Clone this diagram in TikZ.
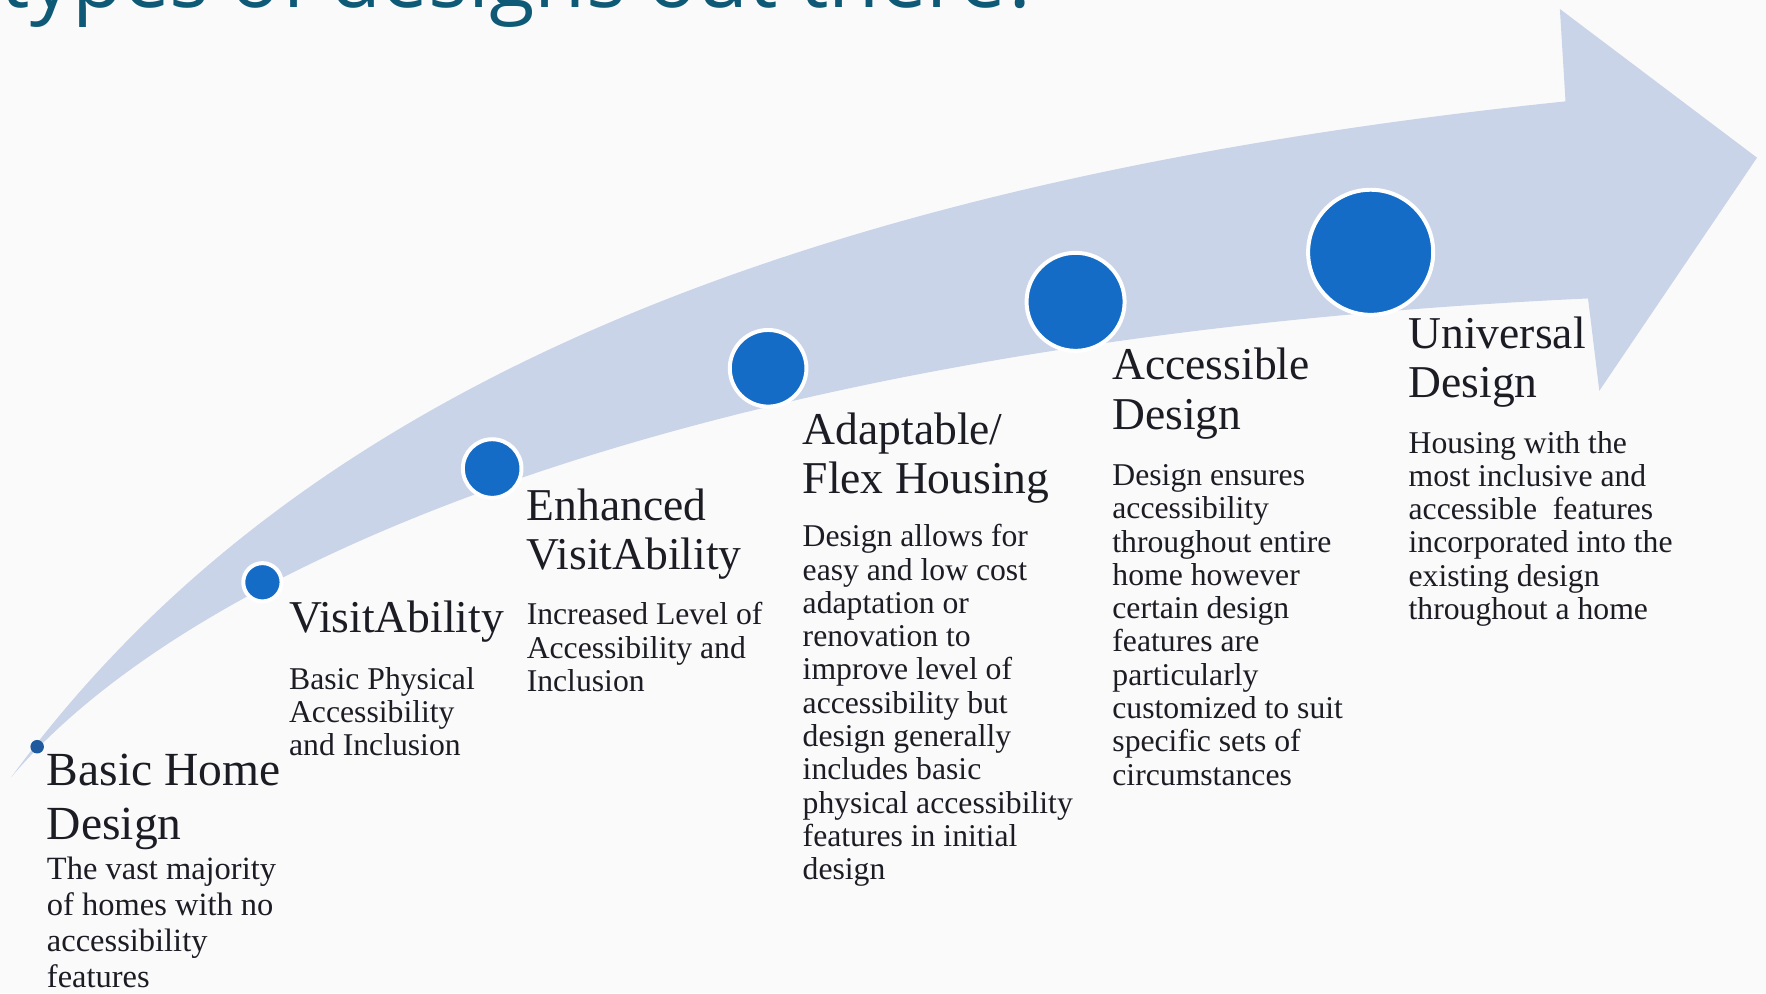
\documentclass[tikz,border=0pt]{standalone}
\usepackage{fontspec}
\setmainfont{Liberation Serif}
\newfontfamily\titlefont{Open Sans}
\usepackage{tikz}
\definecolor{bandblue}{HTML}{CAD4E8}
\definecolor{dotblue}{HTML}{156CC6}
\definecolor{tailblue}{HTML}{1F5A9E}
\definecolor{titleteal}{HTML}{0E5A76}
\definecolor{inkblack}{HTML}{1C1C24}
\definecolor{paper}{HTML}{FAFAFA}

\begin{document}
\begin{tikzpicture}[x=0.01cm,y=-0.01cm,
  stage/.style={circle,fill=dotblue,draw=white,line width=1pt,inner sep=0pt},
  heading/.style={anchor=base west,inner sep=0pt,align=left,text=inkblack,font=\fontsize{11.5}{12.4}\selectfont},
  blurb/.style={anchor=base west,inner sep=0pt,align=left,text=inkblack,font=\fontsize{8}{8.4}\selectfont}]
% page
\fill[paper] (0,0) rectangle (1568,882);
\useasboundingbox (0,0) rectangle (1568,882);

% title, cut at the top edge
\begin{scope}
\clip (0,0) rectangle (1568,882);
\node[anchor=base west,inner sep=0pt,text=titleteal,font=\titlefont\fontsize{21}{23}\selectfont] (title) at (0,7) {types of designs out there?};
\end{scope}

% curved arrow
\fill[bandblue] (10,690) .. controls (230,390) and (620,170) .. (1390,90)
  -- (1385,8) -- (1560,140) -- (1420,347) -- (1410,265)
  .. controls (650,300) and (180,490) .. (10,690) -- cycle;

% stages on the arrow
\node[stage,draw=none,fill=tailblue,minimum size=0.12cm] (c1) at (33,663) {};
\node[stage,minimum size=0.34cm] (c2) at (233,517) {};
\node[stage,minimum size=0.52cm] (c3) at (437,416) {};
\node[stage,minimum size=0.68cm] (c4) at (682,327) {};
\node[stage,minimum size=0.87cm] (c5) at (955,268) {};
\node[stage,minimum size=1.11cm] (c6) at (1217,224) {};

% labels (multi-line nodes sit on their last baseline)
\node[heading,font=\fontsize{12}{13.6}\selectfont] (h1) at (41,745) {Basic Home\\Design};
\node[blurb,font=\fontsize{8.2}{9.1}\selectfont] (b1) at (41,877) {The vast majority\\of homes with no\\accessibility\\features};

\node[heading] (h2) at (256,562) {VisitAbility};
\node[blurb] (b2) at (256,671) {Basic Physical\\Accessibility\\and Inclusion};

\node[heading] (h3) at (467,506) {Enhanced\\VisitAbility};
\node[blurb] (b3) at (467,614) {Increased Level of\\Accessibility and\\Inclusion};

\node[heading] (h4) at (712,438) {Adaptable/\\Flex Housing};
\node[blurb] (b4) at (712,781) {Design allows for\\easy and low cost\\adaptation or\\renovation to\\improve level of\\accessibility but\\design generally\\includes basic\\physical accessibility\\features in initial\\design};

\node[heading] (h5) at (987,381) {Accessible\\Design};
\node[blurb] (b5) at (987,697) {Design ensures\\accessibility\\throughout entire\\home however\\certain design\\features are\\particularly\\customized to suit\\specific sets of\\circumstances};

\node[heading] (h6) at (1250,353) {Universal\\Design};
\node[blurb] (b6) at (1250,550) {Housing with the\\most inclusive and\\accessible~ features\\incorporated into the\\existing design\\throughout a home};
\end{tikzpicture}
\end{document}
